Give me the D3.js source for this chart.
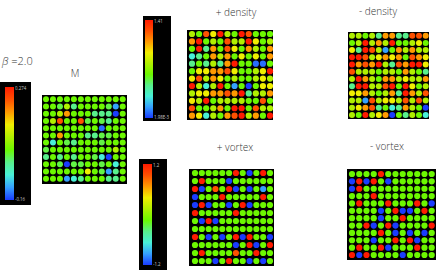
<!DOCTYPE html>
<html>
<head>
<meta charset="utf-8">
<script src="https://cdn.jsdelivr.net/npm/d3@7"></script>
<style>
html, body { margin: 0; padding: 0; background: #fff; }
svg { display: block; }
text { font-family: "Open Sans", sans-serif; opacity: 0.99; }
</style>
</head>
<body>
<div id="svgContainer"></div>
<script>
// colour level of each dot, 0 = bottom of the colour bar, 9 = top
var levels = [0, 1, 2, 3, 4, 5, 6, 7, 8, 9];
var levelColors = ['#1a3cff', '#35a0ff', '#48f0d8', '#58f08c', '#6cf800', '#b0f000', '#f0ee00', '#ff9a00', '#ff5000', '#ff1a00'];

var magnetization = [
    [4,4,4,4,4,4,4,4,4,4,4,4],
    [4,4,3.5,5,3,4,4,4,4,3.5,1,4],
    [4,4,5,7,4,4,4,3,3,3,0,4],
    [4,5,8,4,4,8,3.5,4,3.5,3,4,4],
    [4,4,4,4,4,4,4,4,0.5,4,4,4],
    [4,4,7,4,4,4,3,3,3.5,3.5,4,4],
    [4,2,4,3.5,3,4,4,4,3.5,4,4,4],
    [3.5,4,4,4,4,4,4,4,4,4,5,4],
    [3,4,3,4,3,4,4,3.5,2,0,4,4],
    [4,4,3.5,0,3.5,3.5,4,4,3.5,4,2,4],
    [4,4,4,4,4,4,6,4,3.5,1,3,4],
    [4,4,4,1,2,3,4,4,4,3,3,4]
];
var densityPlus = [
    [5,4,8,6,9,5,4,9,8,4,4,4],
    [7,9,4,5,4,8,5,5,9,6,4,5],
    [4,9,3,7,4,8,6,4,7,5,4,7],
    [2,3,4,7,5,7,4,6,4,6,4,7],
    [3,4,3,5,3,7,9,4,4,0.5,0.5,4],
    [4,6,6,7,7,8,6,4,4,5,6,9],
    [6,8,5,7,6,4,5,4,4,5,6,5],
    [9,5,2,5,9,4,1,4,0,4,6,6],
    [5,6,6,7,7,8,7,9,3,5,5,7],
    [6,5,9,4,5,5,5,5,4,4,8,4],
    [8,4,4,5,7,4,9,9,4,8,5,5],
    [7,6,2,5,4,7,8,9,5,7,4,9]
];
var densityMinus = [
    [5,5,4,5,3,7,7,3,3,8,8,7],
    [4,5,9,5,7,5,9,4,4,5,6,4],
    [6,3,9,8,5,1,4,7,5,7,5,5],
    [9,9,8,5,6,7,6,7,4,8,7,6],
    [9,7,8,7,9,5,3,8,7,9,9,6],
    [8,5,5,5,4,5,5,4,7,5,4,3],
    [5,9,7,5,4,7,7,5,6,5,5,7],
    [3,9,9,5,5,8,9,4,9,6,4,5],
    [6,6,7,5,4,5,7,3,9,7,5,8],
    [5,5,1,8,5,6,6,5,8,5,8,5],
    [5,6,7,8,3,4,2,3,7,5,4,0],
    [5,4,9,5,6,7,0,4,3,5,4,2]
];
var vortexPlus = [
    [4,4,4,4,4,4,9,4,0,4,9,4],
    [4,9,4,4,4,0,4,4,4,4,4,4],
    [9,0,4,8,4,9,0,4,0,4,1,4],
    [0,4,4,4,9,4,4,4,4,4,9,4],
    [0,9,0,4,4,0,4,9,0,4,4,4],
    [9,4,4,4,4,4,9,4,4,4,4,4],
    [4,0,9,0,4,4,4,4,4,4,4,4],
    [4,4,4,4,4,4,4,4,4,4,4,4],
    [9,4,0,4,0,4,9,0,9,4,4,0],
    [4,4,4,4,4,4,0,4,9,0,4,9],
    [4,9,4,4,4,4,8,4,4,9,4,4],
    [4,4,4,0,4,9,4,4,0,4,0,4]
];
var vortexMinus = [
    [4,4,4,4,9,4,4,4,4,4,4,4],
    [0,9,0,9,4,0,4,4,4,4,4,4],
    [0,9,4,4,4,4,4,4,4,4,4,4],
    [4,4,4,9,4,4,4,4,4,4,4,4],
    [4,9,4,4,4,9,4,4,4,9,4,0],
    [4,4,4,4,0,4,9,0,0,4,9,4],
    [4,4,4,4,0,4,4,9,4,4,4,4],
    [4,4,9,0,4,9,0,4,4,4,4,9],
    [4,4,4,4,9,4,0,4,0,4,0,4],
    [4,4,4,0,4,4,9,4,9,0,4,4],
    [4,9,4,4,9,0,4,4,4,9,4,4],
    [9,0,9,4,4,4,4,0,4,4,4,4]
];
var titles = ['M', '+ density', '- density', '+ vortex', '- vortex'];
var barTop = ['0.274', '1.41', '1.2'];
var barBottom = ['-0.16', '1.98E-3', '-1.2'];

var svg = d3.select('#svgContainer').append('svg')
    .attr('width', 436)
    .attr('height', 270);

var color = d3.scaleLinear().domain(levels).range(levelColors);

var defs = svg.append('defs');
defs.append('linearGradient')
    .attr('id', 'rainbow')
    .attr('x1', 0).attr('x2', 0).attr('y1', 1).attr('y2', 0)
    .selectAll('stop')
    .data(levels)
    .enter().append('stop')
    .attr('offset', function(d) { return d / 9; })
    .attr('stop-color', function(d) { return color(d); });

function drawGrid(values, box, dots, r) {
    svg.append('rect')
        .attr('x', box[0])
        .attr('y', box[1])
        .attr('width', box[2] - box[0])
        .attr('height', box[3] - box[1])
        .attr('fill', '#000');

    var x = d3.scaleLinear().domain([0, 11]).range([dots[0], dots[1]]);
    var y = d3.scaleLinear().domain([0, 11]).range([dots[2], dots[3]]);

    var g = svg.append('g');
    values.forEach(function(row, j) {
        g.selectAll(null)
            .data(row)
            .enter().append('circle')
            .attr('cx', function(d, i) { return x(i); })
            .attr('cy', y(j))
            .attr('r', r)
            .attr('fill', function(d) { return color(d); });
    });
}

function drawBar(box, inner, top, bottom) {
    svg.append('rect')
        .attr('x', box[0])
        .attr('y', box[1])
        .attr('width', box[2] - box[0])
        .attr('height', box[3] - box[1])
        .attr('fill', '#000');
    svg.append('rect')
        .attr('x', inner[0])
        .attr('y', inner[1])
        .attr('width', inner[2] - inner[0])
        .attr('height', inner[3] - inner[1])
        .attr('fill', 'url(#rainbow)');
    svg.append('text')
        .attr('x', inner[2] + 1)
        .attr('y', inner[1] + 3)
        .attr('font-size', 4.4)
        .attr('fill', '#ccc')
        .text(top);
    svg.append('text')
        .attr('x', inner[2] + 1)
        .attr('y', inner[3] + 1)
        .attr('font-size', 4.4)
        .attr('fill', '#ccc')
        .text(bottom);
}

function drawTitle(cx, cy, s) {
    svg.append('text')
        .attr('x', cx)
        .attr('y', cy)
        .attr('text-anchor', 'middle')
        .attr('font-size', 10)
        .attr('font-weight', 300)
        .attr('fill', '#333')
        .text(s);
}

drawBar([0, 82, 31, 205], [5, 87, 14, 200], barTop[0], barBottom[0]);
drawBar([143, 16, 171, 121], [145, 20, 153, 118], barTop[1], barBottom[1]);
drawBar([139, 159, 167, 270], [143, 164, 152, 265], barTop[2], barBottom[2]);

drawGrid(magnetization, [42, 95, 127, 184], [46, 122.7, 99.3, 178.7], 3);
drawGrid(densityPlus, [187, 30, 273, 120], [192, 270, 34, 115.7], 3.1);
drawGrid(densityMinus, [348, 32, 429, 119], [352, 425.7, 35.7, 115], 3);
drawGrid(vortexPlus, [189, 169, 274, 266], [195, 270, 173, 261], 3.1);
drawGrid(vortexMinus, [347, 169, 436, 260], [352, 431.7, 174, 255], 3.1);

drawTitle(75, 77, titles[0]);
drawTitle(236, 16, titles[1]);
drawTitle(378, 15, titles[2]);
drawTitle(235, 151, titles[3]);
drawTitle(387, 150, titles[4]);

// beta label, the symbol is slanted
var beta = svg.append('text')
    .attr('x', 2)
    .attr('y', 65)
    .attr('font-size', 11)
    .attr('font-weight', 300)
    .attr('fill', '#333');
beta.append('tspan').attr('font-style', 'italic').text('β');
beta.append('tspan').text(' =2.0');
</script>
</body>
</html>
